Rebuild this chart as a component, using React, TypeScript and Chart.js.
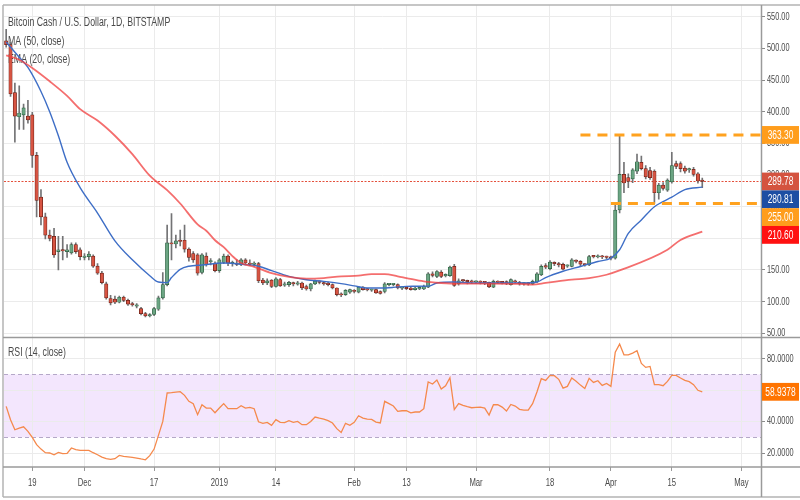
import React, { useEffect, useRef } from 'react';
import { Chart, registerables } from 'chart.js';

Chart.register(...registerables);

// ---------- categories ----------
const FIRST_DAY = '2018-11-13';
const LAST_DAY = '2019-05-05';

// ---------- daily candles, Nov 13 2018 .. Apr 22 2019 ----------
const opens = [
  512, 506, 430, 392, 395, 393, 395, 331, 265, 234,
  205, 203, 179, 182, 179, 177, 190, 182, 170, 171,
  172, 156, 145, 128, 105, 104, 99, 107, 102, 96,
  93, 89, 81, 77.5, 80, 88, 106, 127, 193, 191,
  196, 197, 183, 176, 174, 146, 172, 163, 161, 149,
  162, 172, 160, 160, 159, 166, 160, 159, 160, 134,
  129.5, 134, 124, 135, 126, 127, 129, 127.5, 129.5, 124,
  120, 128, 131, 129, 128, 127, 121.6, 111.5, 111, 115,
  117, 115, 123, 119, 118, 119, 116, 116, 127, 127,
  127, 121.5, 121.5, 121.6, 119, 120, 120, 123, 144, 140,
  146.7, 141, 141, 155.6, 128, 133.5, 132, 131.6, 131, 131.3,
  130.5, 130.5, 123, 131, 130.5, 130, 127, 131.5, 130.5, 128,
  128.3, 128, 131, 142.5, 157, 152, 161, 159.5, 159, 156,
  155.6, 164, 163.5, 158.5, 158, 171.5, 170.5, 171, 170.5, 170,
  168.7, 245, 301, 296, 294, 306, 320, 310, 307, 306,
  272, 284, 276, 289, 318, 318, 311, 308, 309, 302, 292,
];
const highs = [
  530, 510, 445, 441, 412, 418, 399, 336, 277, 240,
  213, 216, 203, 203, 190, 193, 193, 185, 176, 179,
  174, 160, 148, 131, 110, 109, 109, 109, 104, 99,
  97, 91, 83, 81, 91, 109, 146, 221, 239, 205,
  213, 221, 185, 179, 176, 176, 177, 168, 163, 168,
  175, 174, 164, 166, 168, 168, 166, 163, 162, 137,
  136, 135, 138, 137, 131, 132, 131, 132, 131, 126,
  129, 134, 133, 131, 131, 128, 122, 114, 119, 120,
  119, 124, 124, 121, 120, 120, 117, 130, 129, 129,
  128, 124, 123, 123, 123, 124, 126, 146, 147, 149,
  149, 144, 156, 159, 136, 135, 134, 134, 133, 133,
  131, 131, 134, 133, 132, 133, 136, 134, 132, 130,
  130, 134, 146, 158, 160, 165, 163, 162, 161, 158,
  168, 166, 165, 160, 173, 173, 174, 173, 172, 172,
  252, 363.3, 320, 302, 310, 333, 330, 315, 312, 308,
  287, 288, 294, 336, 322, 321, 314, 311, 312, 304, 295,
];
const lows = [
  502, 424, 352, 372, 372, 382, 312, 234, 221, 199,
  196, 170, 150, 166, 170, 175, 176, 166, 166, 166,
  154, 143, 128, 104, 95, 97, 98, 100, 94, 93,
  90, 79, 76, 76, 78, 86, 104, 125, 166, 185,
  188, 178, 164, 162, 142, 144, 156, 158, 147, 146,
  160, 157, 156, 157, 157, 158, 157, 156, 130, 127,
  127, 122, 123, 124, 124, 124, 125, 126, 119, 118,
  117, 127, 128, 126, 125, 120, 109, 108, 110, 113,
  114, 114, 118, 117, 116, 113, 112, 114, 125, 125,
  120, 119, 119, 118, 118, 119, 119, 122, 139, 138,
  138, 139, 140, 124, 126, 130, 128, 129, 129, 128,
  127, 122, 122, 129, 128, 127, 126, 130, 126, 126,
  126, 127, 130, 141, 152, 150, 157, 155, 150, 154,
  155, 161, 157, 156, 157, 169, 169, 168, 168, 166,
  167, 240, 272, 280, 288, 302, 308, 294, 293, 255,
  262, 276, 274, 287, 310, 305, 303, 304, 298, 287, 280,
];
const closes = [
  506, 428, 393, 398, 406, 387, 331, 260, 234, 205,
  200, 174, 182, 180, 182, 190, 179, 171, 172, 175,
  156, 145, 130, 106, 98, 99, 107, 102, 96, 95,
  94.5, 81, 77.5, 79, 89, 106, 127, 193, 191, 196,
  195, 183, 170, 166, 145, 174, 159, 164, 149, 166,
  172, 161, 161, 159, 166, 161, 159, 160, 133, 129.5,
  133, 124, 136, 125, 128, 130.5, 128, 128.5, 121.6, 120,
  128, 132.6, 130.5, 128, 127, 121.6, 111.2, 110.5, 118, 119,
  116, 123, 119, 118.5, 118.5, 114, 113, 128, 127.5, 127,
  121.6, 122, 120.6, 119, 121.6, 122.7, 124.2, 144, 141.5, 147.7,
  140, 142.5, 154.6, 125.8, 133, 132.8, 131.6, 131, 131.3, 130.5,
  130, 123.2, 132, 130.5, 130, 129.5, 134.7, 131, 128, 128.3,
  128, 132, 144, 155.6, 154.6, 162.4, 160, 158, 151.4, 156.7,
  166, 163.5, 159.3, 158.2, 171.3, 171, 171.2, 170.5, 170, 168.7,
  244.5, 301, 287.4, 290, 308, 321, 310, 297, 296, 272,
  284, 279, 292, 315, 313.5, 310, 306, 308.5, 301, 290.5, 289.78,
];

// ---------- moving averages: [day index, value] ----------
const ma50Points: [number, number][] = [
  [0, 489], [3, 482], [6, 469], [10, 448], [14, 425], [17, 404], [21, 386], [25, 362],
  [29, 333], [33, 299], [37, 276], [40, 255], [44, 222], [46, 212], [48, 197], [50, 186],
  [52, 172], [54, 161], [57, 155], [61, 145], [65, 139], [69, 136.3], [73, 137.3], [77, 140],
  [81, 141], [84, 143.6], [87, 143.6], [90, 140], [92, 137.3], [96, 132], [100, 129.5],
  [104, 128.4], [111, 128.4], [118, 128], [121, 127], [124, 129.5], [130, 134.7], [134, 137.3],
  [138, 142.5], [141, 149.3], [152, 182], [155, 197.5], [160, 210.6],
];
const ema20Points: [number, number][] = [
  [0, 510], [3, 486], [5, 470], [8, 432], [10, 400], [12, 362], [14, 320], [17, 280],
  [21, 240], [25, 196], [29, 166], [33, 141], [35, 131], [37, 130], [38, 138], [40, 151],
  [42, 156], [45, 158], [50, 161], [55, 158.5], [58, 156], [61, 149], [65, 140], [69, 134.7],
  [73, 132], [77, 128.4], [80, 125], [83, 121.6], [86, 121.6], [89, 122.5], [92, 124.2],
  [97, 124.5], [99, 129.5], [103, 131], [107, 129.5], [111, 129.5], [119, 129.5], [122, 131],
  [124, 138], [128, 148], [132, 155.6], [136, 163.5], [139, 168.7], [141, 182], [143, 208],
  [146, 229], [149, 250], [153, 265], [156, 277], [160, 280.81],
];

// ---------- RSI (14, close) ----------
const rsiValues = [
  49.7, 41.2, 34.8, 35.9, 36.7, 33.8, 29.9, 25.3, 22.5, 20.2,
  20.0, 18.9, 20.4, 19.6, 19.8, 23.2, 22.1, 21.7, 21.7, 21.7,
  20.2, 18.9, 17.4, 16.4, 15.9, 16.4, 18.5, 17.9, 17.6, 17.2,
  16.8, 16.2, 15.7, 18.3, 22.5, 31.2, 40.1, 58.2, 58.4, 58.8,
  59.0, 56.7, 52.9, 51.4, 44.4, 50.7, 48.6, 48.6, 45.6, 48.6,
  51.4, 48.2, 48.2, 48.2, 50.1, 48.6, 49.0, 48.2, 39.9, 38.9,
  39.5, 37.6, 41.2, 39.5, 39.3, 40.6, 39.5, 40.1, 38.0, 38.0,
  40.1, 42.9, 42.2, 41.6, 40.6, 39.1, 35.5, 33.1, 38.9, 37.6,
  39.5, 43.7, 42.2, 41.6, 41.4, 39.7, 39.1, 52.9, 51.4, 49.9,
  46.5, 46.9, 46.9, 45.6, 46.1, 46.1, 48.2, 65.2, 63.9, 66.4,
  60.7, 62.8, 67.9, 47.6, 51.4, 50.3, 49.5, 48.8, 49.0, 49.2,
  48.6, 44.2, 50.7, 50.7, 49.2, 46.7, 50.9, 49.9, 47.8, 47.3,
  47.3, 51.4, 58.8, 67.3, 66.2, 69.4, 69.2, 66.9, 61.3, 62.4,
  67.7, 65.6, 63.2, 61.1, 67.5, 64.9, 66.0, 63.0, 64.3, 62.4,
  84.2, 89.3, 82.5, 82.5, 83.6, 85.1, 77.0, 74.5, 75.1, 63.5,
  63.5, 62.8, 65.6, 69.4, 69.4, 67.7, 66.2, 65.4, 63.5, 59.9, 58.9378,
];
const rsiBand = [30, 70];

// ---------- axes ----------
const priceTicks = [50, 100, 150, 200, 250, 300, 350, 400, 450, 500, 550];
const rsiTicks = [20, 40, 60, 80];
const dateTickDays = [
  '2018-11-19', '2018-12-01', '2018-12-17', '2019-01-01', '2019-01-14', '2019-02-01',
  '2019-02-13', '2019-03-01', '2019-03-18', '2019-04-01', '2019-04-15', '2019-05-01',
];
const dateTickLabels = ['19', 'Dec', '17', '2019', '14', 'Feb', '13', 'Mar', '18', 'Apr', '15', 'May'];

// ---------- horizontal levels drawn on the chart ----------
const levelValues = [363.3, 255];
const levelStartDays = ['2019-03-25', '2019-04-01'];

const titleLines = ['Bitcoin Cash / U.S. Dollar, 1D, BITSTAMP', 'MA (50, close)', 'EMA (20, close)'];
const rsiTitle = 'RSI (14, close)';

const FONT = '"Liberation Sans", Arial, sans-serif';
const SQUISH = 0.7;
const TEXT = '#4a4a4a';
const UP = '#6ba583';
const DOWN = '#d75442';
const UP_BORDER = '#2b5e3f';
const DOWN_BORDER = '#6b2118';
const WICK = '#737375';
const MA50_COLOR = 'rgba(240, 62, 62, 0.75)';
const EMA20_COLOR = '#3e6ec6';
const RSI_COLOR = '#f5894c';
const LEVEL_COLOR = '#ffa21f';

function buildDays(first: string, last: string): string[] {
  const out: string[] = [];
  let t = Date.parse(first + 'T00:00:00Z');
  const end = Date.parse(last + 'T00:00:00Z');
  while (t <= end) {
    out.push(new Date(t).toISOString().slice(0, 10));
    t += 86400000;
  }
  return out;
}

function narrowText(
  ctx: CanvasRenderingContext2D,
  text: string,
  x: number,
  y: number,
  align: CanvasTextAlign,
  size: number,
  color: string,
) {
  ctx.save();
  ctx.font = `${size}px ${FONT}`;
  ctx.fillStyle = color;
  ctx.textBaseline = 'middle';
  ctx.textAlign = align;
  ctx.translate(x, y);
  ctx.scale(SQUISH, 1);
  ctx.fillText(text, 0, 0);
  ctx.restore();
}

function line(ctx: CanvasRenderingContext2D, x1: number, y1: number, x2: number, y2: number) {
  ctx.beginPath();
  ctx.moveTo(x1, y1);
  ctx.lineTo(x2, y2);
  ctx.stroke();
}

export default function App() {
  const ref = useRef<HTMLCanvasElement>(null);

  useEffect(() => {
    document.body.style.margin = '0';
    const canvas = ref.current;
    if (!canvas) return;
    const days = buildDays(FIRST_DAY, LAST_DAY);
    const tickIndexes = dateTickDays.map((d) => days.indexOf(d));

    const isUp = closes.map((c, i) => c >= opens[i]);
    const bodies = opens.map((o, i) => [Math.min(o, closes[i]), Math.max(o, closes[i])]);
    const wicks = lows.map((l, i) => [l, highs[i]]);

    const lastClose = closes[closes.length - 1];
    const lastMa50 = ma50Points[ma50Points.length - 1][1];
    const lastEma20 = ema20Points[ema20Points.length - 1][1];
    const lastRsi = rsiValues[rsiValues.length - 1];

    const priceBoxes = [
      { value: levelValues[0], color: '#ff9d1c' },
      { value: lastClose, color: isUp[isUp.length - 1] ? UP : '#d4533f' },
      { value: lastEma20, color: '#1d4ea3' },
      { value: levelValues[1], color: '#ff9d1c' },
      { value: lastMa50, color: '#ff1111' },
    ];

    const panesPlugin = {
      id: 'panes',
      beforeDraw(chart: any) {
        const { ctx, chartArea: a, scales } = chart;
        const r = scales.rsi;
        ctx.save();
        ctx.fillStyle = '#ffffff';
        ctx.fillRect(0, 0, chart.width, chart.height);
        const y70 = r.getPixelForValue(rsiBand[1]);
        const y30 = r.getPixelForValue(rsiBand[0]);
        ctx.fillStyle = '#f3e6fd';
        ctx.fillRect(a.left, y70, a.right - a.left, y30 - y70);
        ctx.restore();
      },
      beforeDatasetsDraw(chart: any) {
        const { ctx, chartArea: a, scales } = chart;
        const r = scales.rsi;
        const p = scales.y;
        ctx.save();
        ctx.strokeStyle = '#b5a8c8';
        ctx.lineWidth = 1;
        ctx.setLineDash([4, 3]);
        rsiBand.forEach((v) => {
          const y = Math.round(r.getPixelForValue(v)) + 0.5;
          line(ctx, a.left, y, a.right, y);
        });
        ctx.strokeStyle = '#e4513c';
        ctx.lineWidth = 1.2;
        ctx.setLineDash([2, 1.5]);
        const yp = Math.round(p.getPixelForValue(lastClose)) + 0.5;
        line(ctx, a.left, yp, a.right, yp);
        ctx.setLineDash([]);
        ctx.restore();
        titleLines.forEach((t, k) => narrowText(ctx, t, a.left + 4, a.top + 18 + k * 18.5, 'left', 12.5, TEXT));
        narrowText(ctx, rsiTitle, a.left + 4, r.top + 15, 'left', 12.5, TEXT);
      },
      afterDraw(chart: any) {
        const { ctx, chartArea: a, scales } = chart;
        const x = scales.x;
        const p = scales.y;
        const r = scales.rsi;
        ctx.save();
        // support / resistance levels
        ctx.strokeStyle = LEVEL_COLOR;
        ctx.lineWidth = 3;
        ctx.setLineDash([10, 7]);
        levelValues.forEach((v, k) => {
          const y = p.getPixelForValue(v);
          const x0 = x.getPixelForValue(days.indexOf(levelStartDays[k]));
          line(ctx, x0, y, a.right, y);
        });
        ctx.setLineDash([]);
        // frame
        ctx.strokeStyle = '#b3b3b3';
        ctx.lineWidth = 1.5;
        const left = a.left - 1;
        const bottomEdge = chart.height - 3;
        line(ctx, left, a.top, left, bottomEdge);
        line(ctx, left, a.top, chart.width, a.top);
        line(ctx, left, bottomEdge, chart.width, bottomEdge);
        ctx.strokeStyle = '#9a9a9a';
        line(ctx, a.right + 0.5, a.top, a.right + 0.5, bottomEdge);
        line(ctx, left, p.bottom, chart.width, p.bottom);
        line(ctx, left, a.bottom, chart.width, a.bottom);
        ctx.restore();

        // axis labels
        const labelX = a.right + 6;
        p.ticks.forEach((t: any) =>
          narrowText(ctx, Number(t.value).toFixed(2), labelX, p.getPixelForValue(t.value), 'left', 10.5, TEXT),
        );
        r.ticks.forEach((t: any) =>
          narrowText(ctx, Number(t.value).toFixed(4), labelX, r.getPixelForValue(t.value), 'left', 10.5, TEXT),
        );
        tickIndexes.forEach((idx, k) =>
          narrowText(ctx, dateTickLabels[k], x.getPixelForValue(idx), a.bottom + 16, 'center', 11, TEXT),
        );

        // value boxes
        const boxH = 17.8;
        const boxW = 37;
        const sorted = [...priceBoxes].sort((m, n) => n.value - m.value);
        let prev = -Infinity;
        sorted.forEach((b) => {
          let y = p.getPixelForValue(b.value);
          if (y < prev + boxH) y = prev + boxH;
          prev = y;
          ctx.fillStyle = b.color;
          ctx.fillRect(a.right + 1, y - boxH / 2, boxW, boxH);
          narrowText(ctx, b.value.toFixed(2), a.right + 1 + boxW / 2, y + 0.5, 'center', 12, '#ffffff');
        });
        const yr = r.getPixelForValue(lastRsi);
        ctx.fillStyle = '#ff7400';
        ctx.fillRect(a.right + 1, yr - boxH / 2, boxW, boxH);
        narrowText(ctx, lastRsi.toFixed(4), a.right + 1 + boxW / 2, yr + 0.5, 'center', 12, '#ffffff');
      },
    };

    const chart = new Chart(canvas, {
      type: 'bar',
      data: {
        labels: days,
        datasets: [
          {
            type: 'line',
            label: 'MA 50',
            data: ma50Points.map(([i, v]) => ({ x: days[i], y: v })),
            yAxisID: 'y',
            borderColor: MA50_COLOR,
            borderWidth: 1.8,
            pointRadius: 0,
            cubicInterpolationMode: 'monotone',
            order: 0,
          } as any,
          {
            type: 'line',
            label: 'EMA 20',
            data: ema20Points.map(([i, v]) => ({ x: days[i], y: v })),
            yAxisID: 'y',
            borderColor: EMA20_COLOR,
            borderWidth: 1.4,
            pointRadius: 0,
            cubicInterpolationMode: 'monotone',
            order: 0,
          } as any,
          {
            type: 'line',
            label: 'RSI',
            data: rsiValues,
            yAxisID: 'rsi',
            borderColor: RSI_COLOR,
            borderWidth: 1.3,
            pointRadius: 0,
            tension: 0,
            order: 0,
          } as any,
          {
            type: 'bar',
            label: 'body',
            data: bodies,
            yAxisID: 'y',
            backgroundColor: isUp.map((u) => (u ? UP : DOWN)),
            borderColor: isUp.map((u) => (u ? UP_BORDER : DOWN_BORDER)),
            borderWidth: 0.7,
            borderSkipped: false,
            barThickness: 3.4,
            minBarLength: 1.3,
            grouped: false,
            order: 1,
          } as any,
          {
            type: 'bar',
            label: 'wick',
            data: wicks,
            yAxisID: 'y',
            backgroundColor: WICK,
            barThickness: 1,
            grouped: false,
            order: 2,
          } as any,
        ],
      },
      options: {
        animation: false,
        responsive: false,
        maintainAspectRatio: false,
        events: [],
        layout: { padding: { left: 4, top: 5, right: 0, bottom: 3 } },
        plugins: { legend: { display: false }, tooltip: { enabled: false }, title: { display: false } },
        scales: {
          x: {
            type: 'category',
            offset: true,
            grid: { offset: false, color: '#ebebeb', lineWidth: 1, drawTicks: true, tickLength: 4, tickColor: '#9a9a9a' },
            border: { display: false },
            ticks: { display: false, autoSkip: false },
            afterBuildTicks: (s: any) => {
              s.ticks = tickIndexes.map((v) => ({ value: v }));
            },
            afterFit: (s: any) => {
              s.height = 30;
            },
          },
          y: {
            type: 'linear',
            position: 'right',
            stack: 'panes',
            stackWeight: 332.5,
            min: 43.4,
            max: 568.5,
            grid: { color: '#ebebeb', drawTicks: true, tickLength: 4, tickColor: '#8a8a8a' },
            border: { display: false },
            ticks: { display: false },
            afterBuildTicks: (s: any) => {
              s.ticks = priceTicks.map((v) => ({ value: v }));
            },
            afterFit: (s: any) => {
              s.width = 39;
            },
          },
          rsi: {
            type: 'linear',
            position: 'right',
            stack: 'panes',
            stackWeight: 129.5,
            min: 11.1,
            max: 93.5,
            grid: { color: '#ebebeb', drawTicks: true, tickLength: 4, tickColor: '#8a8a8a' },
            border: { display: false },
            ticks: { display: false },
            afterBuildTicks: (s: any) => {
              s.ticks = rsiTicks.map((v) => ({ value: v }));
            },
            afterFit: (s: any) => {
              s.width = 39;
            },
          },
        },
      } as any,
      plugins: [panesPlugin],
    });

    return () => chart.destroy();
  }, []);

  return (
    <div style={{ width: 800, height: 500, background: '#ffffff' }}>
      <canvas ref={ref} width={800} height={500} style={{ display: 'block' }} />
    </div>
  );
}
